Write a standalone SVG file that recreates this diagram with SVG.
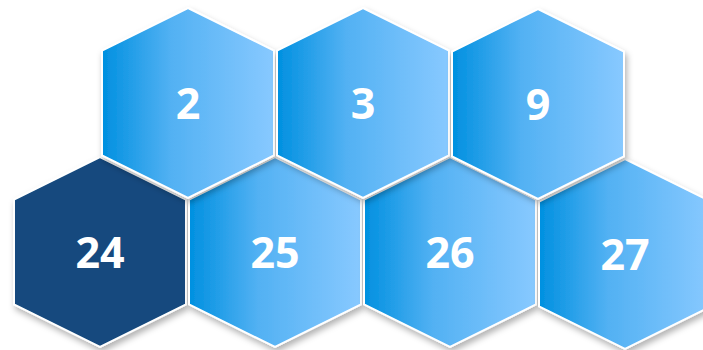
<svg xmlns="http://www.w3.org/2000/svg" width="703" height="350" viewBox="0 0 703 350">
<defs>
<linearGradient id="blue" x1="0" y1="0" x2="1" y2="0">
<stop offset="0" stop-color="#0090E0"/>
<stop offset="0.4" stop-color="#52B1F3"/>
<stop offset="1" stop-color="#88C9FF"/>
</linearGradient>
<filter id="sh" x="-20%" y="-20%" width="140%" height="140%">
<feDropShadow dx="2" dy="4" stdDeviation="3" flood-color="#000" flood-opacity="0.3"/>
</filter>
<polygon id="hex" points="0,-95 86,-52.5 86,52.5 0,95 -86,52.5 -86,-52.5"/>
</defs>
<style>
.h{stroke:#fff;stroke-width:2;filter:url(#sh)}
.b{fill:url(#blue)}
.d{fill:#134A7E}
.t{font-family:"Open Sans","DejaVu Sans",sans-serif;font-weight:700;font-size:43px;fill:#fff;text-anchor:middle}
</style>
<g id="n24" transform="translate(100,252)"><use href="#hex" class="h d"/><text class="t" x="0" y="16">24</text></g>
<g id="n25" transform="translate(275,252)"><use href="#hex" class="h b"/><text class="t" x="0" y="16">25</text></g>
<g id="n26" transform="translate(450,252)"><use href="#hex" class="h b"/><text class="t" x="0" y="16">26</text></g>
<g id="n27" transform="translate(625,254)"><use href="#hex" class="h b"/><text class="t" x="0" y="16">27</text></g>
<g id="n2" transform="translate(188,103)"><use href="#hex" class="h b"/><text class="t" x="0" y="16">2</text></g>
<g id="n3" transform="translate(363,103)"><use href="#hex" class="h b"/><text class="t" x="0" y="16">3</text></g>
<g id="n9" transform="translate(538,104)"><use href="#hex" class="h b"/><text class="t" x="0" y="16">9</text></g>
<g id="connectors"/>
</svg>
